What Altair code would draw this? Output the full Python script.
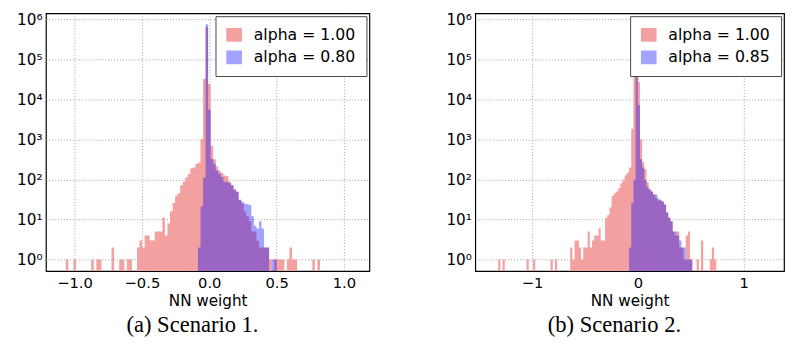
import altair as alt
import pandas as pd

# ---------------- data (histogram counts per bin) ----------------
# Panel (a): 100 equal bins starting at A_START with width A_WIDTH
A_START = -1.065
A_WIDTH = 0.01887
A_RED = [1, 0, 0, 1, 0, 0, 0, 0, 0, 0,
         1, 0, 1, 1, 0, 0, 0, 0, 2, 0,
         0, 1, 1, 0, 1, 1, 0, 0, 2, 3,
         2, 4, 4, 3, 3, 5, 5, 5, 11, 4,
         8, 16, 26, 39, 45, 72, 88, 113, 137, 188,
         200, 245, 260, 1000, 32000, 640000, 24000, 690, 320, 210,
         165, 145, 125, 120, 87, 72, 56, 49, 31, 25,
         16, 12, 9, 5, 5, 3, 2, 2, 2, 2,
         1, 0, 1, 1, 1, 1, 0, 1, 2, 1,
         1, 0, 0, 0, 0, 0, 0, 1, 0, 1]
A_BLUE = [0] * 52 + [2, 21, 110, 750000, 5600, 320, 245, 167,
                     140, 115, 87, 87, 80, 72, 56, 49, 31, 28,
                     25, 24, 23, 12, 7, 6, 9, 6, 2, 2,
                     0, 1, 1] + [0] * 17

# Panel (b)
B_START = -1.32
B_WIDTH = 0.0206
B_RED = [1, 0, 1, 0, 0, 0, 0, 0, 0, 0,
         0, 0, 0, 1, 0, 0, 1, 0, 0, 0,
         0, 0, 0, 0, 1, 0, 1, 0, 0, 0,
         0, 0, 0, 2, 1, 3, 3, 2, 1, 2,
         2, 5, 2, 3, 4, 4, 6, 3, 3, 11,
         13, 20, 39, 45, 50, 60, 80, 100, 127, 150,
         200, 1850, 39000, 610000, 27000, 1000, 270, 180, 85, 58,
         50, 42, 35, 30, 30, 28, 23, 15, 11, 9,
         5, 4, 5, 2, 2, 1, 4, 5, 1, 0,
         0, 1, 0, 3, 0, 0, 0, 1, 2, 1]
B_BLUE = [0] * 60 + [2, 26, 100, 710000, 7100, 320, 200, 95, 65, 55,
                     50, 42, 42, 33, 31, 28, 24, 15, 11, 9,
                     5, 5, 4, 3, 2, 2, 1, 1, 1] + [0] * 11

A_LABELS = ["alpha = 1.00", "alpha = 0.80"]
B_LABELS = ["alpha = 1.00", "alpha = 0.85"]
A_XTICKS = [-1.0, -0.5, 0.0, 0.5, 1.0]
B_XTICKS = [-1, 0, 1]
Y_TICKS = [1, 10, 100, 1000, 10000, 100000, 1000000]
CAPTIONS = ["(a) Scenario 1.", "(b) Scenario 2."]

# ---------------- styling ----------------
PINK = "#F3A0A1"
BLUE = "#0000FF"
BLUE_OPACITY = 0.36
LIGHTBLUE = "#A3A3FF"
Y_MIN = 0.518
Y_MAX = 1.40e6
FONT = "DejaVu Sans"


def to_frame(start, width, red, blue, labels):
    """One row per bin edge (step-after histogram outline), closing edge has count 0."""
    rows = []
    for lab, counts in ((labels[0], red), (labels[1], blue)):
        for k, c in enumerate(list(counts) + [0]):
            rows.append({"series": lab, "x0": start + k * width, "count": c})
    return pd.DataFrame(rows)


SUP = "['\u2070','\u00b9','\u00b2','\u00b3','\u2074','\u2075','\u2076']"
Y_LABEL_EXPR = "'10' + " + SUP + "[round(log(datum.value)/LN10)]"


def x_label_expr(fmt):
    return ("(datum.value < 0 ? '\u2212' : '') + format(abs(datum.value), '"
            + fmt + "')")


def panel(df, labels, xdom, xticks, fmt, width, caption):
    x = alt.X("x0:Q", scale=alt.Scale(domain=xdom, nice=False, zero=False),
              axis=alt.Axis(values=xticks, labelExpr=x_label_expr(fmt),
                            title="NN weight"))
    y = alt.Y("h:Q", scale=alt.Scale(type="log", domain=[Y_MIN, Y_MAX], nice=False),
              axis=alt.Axis(values=Y_TICKS, labelExpr=Y_LABEL_EXPR, title=None,
                            labelFontSize=15.5, labelPadding=4,
                            minExtent=31, maxExtent=31))
    base = alt.Chart(df).transform_calculate(h=f"max(datum.count, {Y_MIN})")
    red = base.transform_filter(alt.datum.series == labels[0]).mark_area(
        interpolate="step-after").encode(
        x=x, y=y, y2=alt.datum(Y_MIN),
        color=alt.Color("series:N",
                        scale=alt.Scale(domain=labels, range=[PINK, LIGHTBLUE]),
                        legend=alt.Legend(title=None)),
    )
    blue = base.transform_filter(alt.datum.series == labels[1]).mark_area(
        interpolate="step-after", color=BLUE, opacity=BLUE_OPACITY).encode(
        x=x, y=y, y2=alt.datum(Y_MIN),
    )
    return alt.layer(red, blue).properties(
        width=width, height=263,
        title=alt.TitleParams(caption, orient="bottom", frame="bounds", anchor="middle",
                              font="Liberation Serif", fontSize=23, fontWeight="normal",
                              color="black", offset=6),
    )


df_a = to_frame(A_START, A_WIDTH, A_RED, A_BLUE, A_LABELS)
df_b = to_frame(B_START, B_WIDTH, B_RED, B_BLUE, B_LABELS)

pa = panel(df_a, A_LABELS, [-1.2125, 1.189], A_XTICKS, ".1f", 330, CAPTIONS[0])
pb = panel(df_b, B_LABELS, [-1.537, 1.380], B_XTICKS, "d", 315, CAPTIONS[1])

chart = alt.hconcat(pa, pb, spacing=75).resolve_scale(
    color="independent").resolve_legend(color="independent").properties(
    padding={"left": 6.7, "top": 0, "right": 0, "bottom": 0},
    background="white",
).configure_view(
    stroke="black", strokeWidth=1.2,
).configure_axis(
    labelFont=FONT, labelFontSize=15, labelColor="black",
    titleFont=FONT, titleFontSize=15.5, titleFontWeight="normal", titleColor="black",
    ticks=False, domain=False, grid=True, gridColor="#a0a0a0", gridDash=[1, 2],
    gridWidth=1, labelPadding=5, titlePadding=3, zindex=1,
).configure_legend(
    orient="top-right", offset=3, padding=11, strokeColor="#444444", fillColor="white",
    labelFont=FONT, labelFontSize=16, labelColor="black",
    symbolType="M-1.14,-1H1.14V1H-1.14Z",
    symbolSize=196, symbolStrokeWidth=0, rowPadding=7, labelOffset=12,
    cornerRadius=0, symbolOpacity=1,
)

chart.save("out.html", embed_options={"renderer": "svg", "actions": False})
